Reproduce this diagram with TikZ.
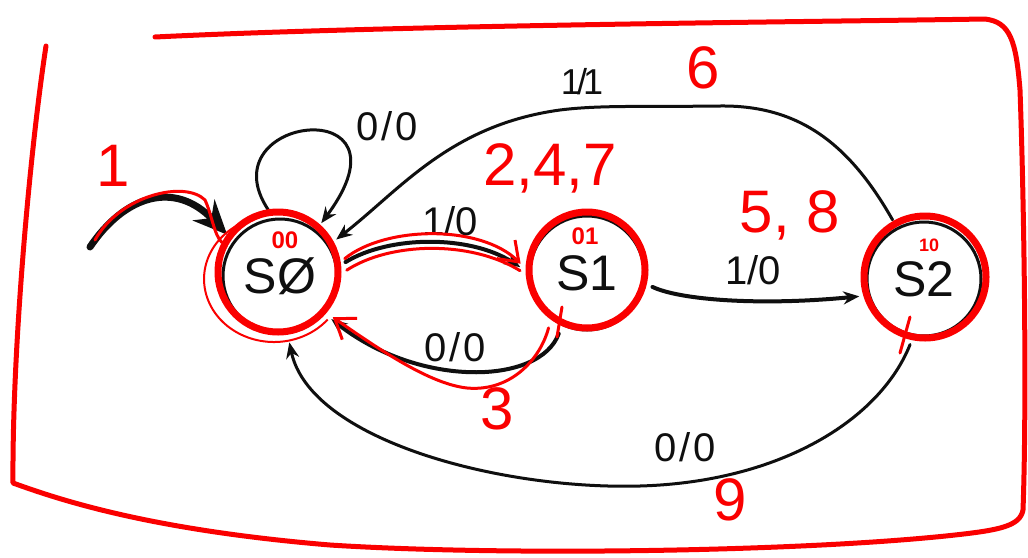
\documentclass[tikz,border=0pt]{standalone}
\usepackage{fontspec}
\setmainfont{Liberation Sans}
\usetikzlibrary{arrows.meta}
\definecolor{pen}{RGB}{250,0,0}
\definecolor{ink}{RGB}{15,15,15}
\begin{document}
\begin{tikzpicture}[x=1pt,y=-1pt,
  inkline/.style={draw=ink, line width=3pt, line cap=round, line join=round},
  state/.style={circle, draw=ink, line width=3pt, minimum size=114pt, inner sep=0pt, outer sep=10pt,
    text=ink, font=\fontsize{50}{50}\selectfont},
  ring/.style={draw=pen, line width=7pt},
  penline/.style={draw=pen, line width=3pt, line cap=round, line join=round},
  border/.style={draw=pen, line width=5pt, line cap=round, line join=round},
  tip/.style={-{Stealth[length=16pt,width=13pt]}},
  pentip/.style={-{Straight Barb[length=18pt,width=26pt,line width=3pt]}},
  lbl/.style={text=ink, font=\fontsize{40}{40}\selectfont, inner sep=0pt},
  num/.style={text=pen, font=\fontsize{60}{60}\selectfont, inner sep=0pt},
  code/.style={text=pen, font=\bfseries\fontsize{24}{24}\selectfont, inner sep=0pt},
]
\useasboundingbox (0,0) rectangle (1028,557);
\fill[white] (0,0) rectangle (1028,557);

% states
\node[state] (s0) at (280,276) {SØ};
\node[state] (s1) at (587,273) {S1};
\node[state] (s2) at (924,279) {S2};
\coordinate (init) at (90,247);

% black transitions
\draw[draw=ink, line width=7pt, line cap=round, -{Stealth[length=34pt,width=30pt]}]
  (init) .. controls (125,195) and (175,180) .. (s0.142);
\draw[inkline, tip] (s0.100) .. controls (205,115) and (420,90) .. (s0.52);
\draw[inkline, tip] (s2.118) .. controls (850,145) and (800,105) .. (720,106)
  .. controls (640,107) and (600,105) .. (560,110)
  .. controls (450,125) and (400,190) .. (s0.33);
\draw[inkline, line width=4pt, tip] (s0.12) .. controls (390,235) and (470,235) .. (s1.175);
\draw[inkline, line width=4pt, tip] (s1.245) .. controls (540,385) and (420,388) .. (s0.-40);
\draw[inkline, line width=4pt, tip] (s1.-12) .. controls (680,300) and (760,306) .. (s2.195);
\draw[inkline, tip] (s2.258) .. controls (880,420) and (780,482) .. (640,486)
  .. controls (500,490) and (310,440) .. (s0.-82);

% edge labels
\node[lbl] (l00) at (387,126) {0\kern3pt/\kern3pt0};
\node[lbl, font=\fontsize{36}{36}\selectfont] (l11) at (582,82) {1\kern-4pt/\kern-4pt1};
\node[lbl] (l10a) at (450,221) {1/0};
\node[lbl] (l00b) at (455,347) {0\kern3pt/\kern3pt0};
\node[lbl] (l10b) at (753,270) {1/0};
\node[lbl] (l00c) at (685,447) {0\kern3pt/\kern3pt0};

% red annotations
\draw[ring] (278,272) circle[radius=60];
\draw[ring] (587,270) circle[radius=58];
\draw[ring] (925,277) circle[radius=61];
\draw[draw=pen, line width=2pt] (250.1,219.8) arc[start angle=-110, end angle=-320, x radius=70, y radius=63];

\draw[penline] (init) ++(5,-7) .. controls (120,195) and (185,180) .. (205,200)
  .. controls (212,215) and (214,235) .. (s0.150);
\draw[penline, pentip] (s0.15) .. controls (385,226) and (480,224) .. (s1.172);
\draw[penline] (s0.5) .. controls (390,242) and (470,240) .. (s1.178);
\draw[penline, pentip] (s1.235) .. controls (540,360) and (510,392) .. (467,388)
  .. controls (430,384) and (380,350) .. (s0.-38);
\draw[penline] (562,307) -- (557,337);
\draw[penline] (910,317) -- (900,353);

\node[code] (c00) at (285,240) {00};
\node[code] (c01) at (585,236) {01};
\node[code, font=\bfseries\fontsize{18}{18}\selectfont] (c10) at (929,245) {10};

\node[num] (n1) at (113,166) {1};
\node[num] (n247) at (550,168) {2,4,7};
\node[num] (n6) at (703,68) {6};
\node[num] (n58) at (790,215) {5, 8};
\node[num] (n3) at (497,409) {3};
\node[num] (n9) at (730,500) {9};

% frame
\draw[border] (46,46) .. controls (30,150) and (12,350) .. (13,483)
  .. controls (60,500) and (150,530) .. (330,545)
  .. controls (500,556) and (800,552) .. (955,535)
  .. controls (1000,530) and (1020,526) .. (1023,510)
  .. controls (1027,400) and (1024,200) .. (1020,90)
  .. controls (1016,40) and (1010,22) .. (985,19)
  .. controls (800,22) and (400,25) .. (155,37);
\end{tikzpicture}
\end{document}
